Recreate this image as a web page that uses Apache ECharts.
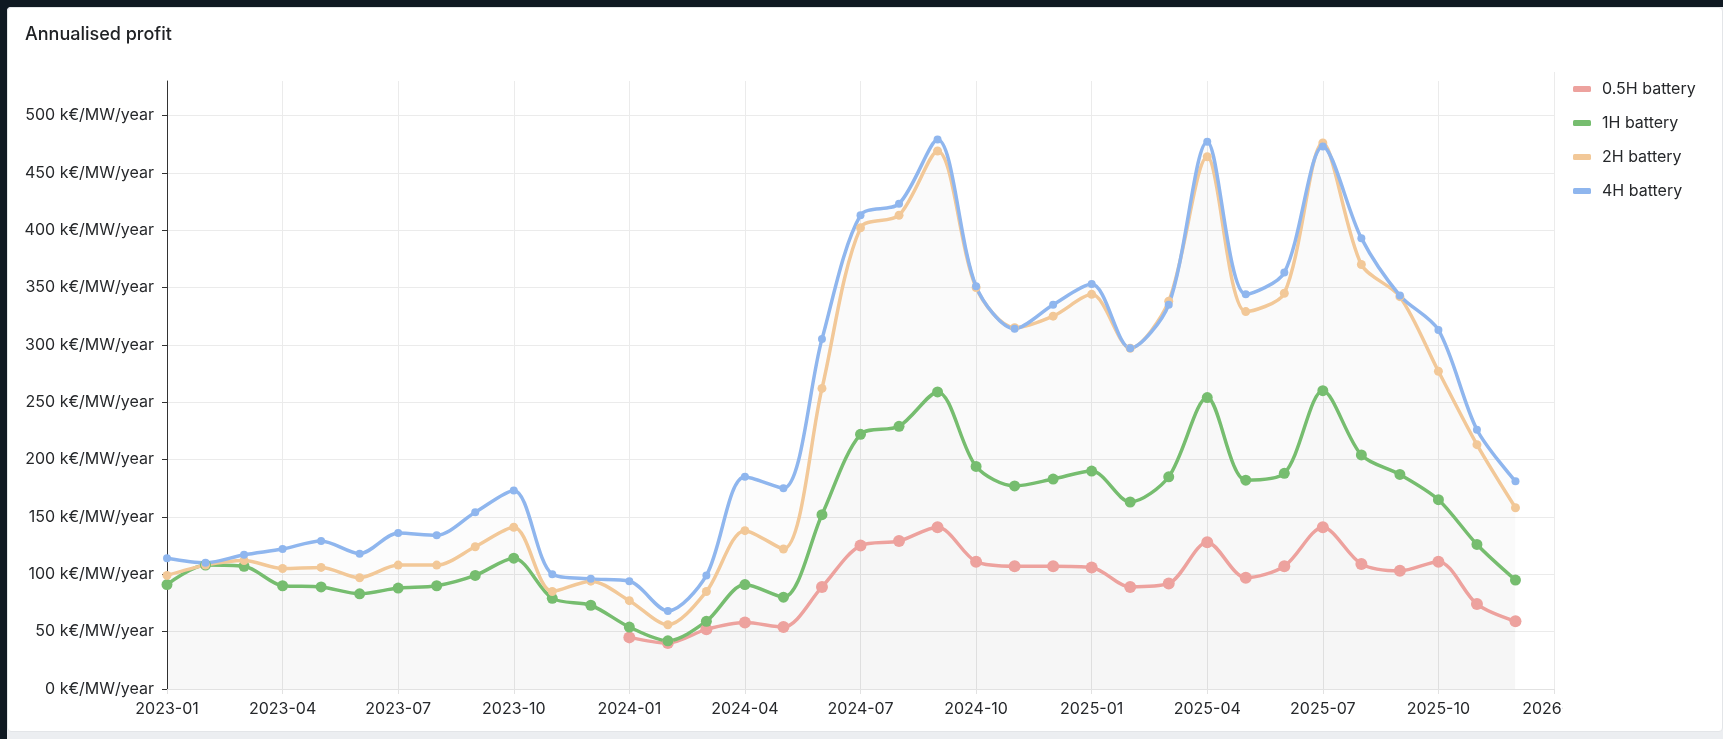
<!DOCTYPE html>
<html>
<head>
<meta charset="utf-8">
<script src="https://cdn.jsdelivr.net/npm/echarts@6/dist/echarts.min.js"></script>
<style>
html,body{margin:0;padding:0;width:1723px;height:739px;overflow:hidden;background:#0f1922;}
#strip{position:absolute;left:7px;top:7px;right:0;bottom:0;background:#eceef1;border-radius:4px 0 0 0;}
#panel{position:absolute;left:7px;top:7px;width:1716px;height:725px;background:#fff;border:1px solid #e3e5e8;border-radius:4px;box-sizing:border-box;}
#chart{position:absolute;left:0;top:0;width:1723px;height:739px;}
</style>
</head>
<body>
<div id="strip"></div>
<div id="panel"></div>
<div id="chart"></div>
<script>
// Monthly categories (tick labels shown every 3rd month)
const months = [
  '2023-01','2023-02','2023-03','2023-04','2023-05','2023-06','2023-07','2023-08','2023-09','2023-10','2023-11','2023-12',
  '2024-01','2024-02','2024-03','2024-04','2024-05','2024-06','2024-07','2024-08','2024-09','2024-10','2024-11','2024-12',
  '2025-01','2025-02','2025-03','2025-04','2025-05','2025-06','2025-07','2025-08','2025-09','2025-10','2025-11','2025-12',
  '2026-01'
];
const yTicks = [0, 50, 100, 150, 200, 250, 300, 350, 400, 450, 500];
const seriesNames = ['0.5H battery', '1H battery', '2H battery', '4H battery'];

const battery05H = [null,null,null,null,null,null,null,null,null,null,null,null,
  45,40,52,58,54,89,125,129,141,111,107,107,
  106,89,92,128,97,107,141,109,103,111,74,59];
const battery1H = [91,108,107,90,89,83,88,90,99,114,79,73,
  54,42,59,91,80,152,222,229,259,194,177,183,
  190,163,185,254,182,188,260,204,187,165,126,95];
const battery2H = [99,108,112,105,106,97,108,108,124,141,85,94,
  77,56,85,138,122,262,402,413,469,350,315,325,
  344,297,338,464,329,345,476,370,342,277,213,158];
const battery4H = [114,110,117,122,129,118,136,134,154,173,100,96,
  94,68,99,185,175,305,413,423,479,351,314,335,
  353,297,335,477,344,363,473,393,343,313,226,181];

const colors = ['#eda29e', '#76bd6f', '#f2c898', '#8fb6ee'];
const symbolSizes = [12, 11, 9, 8];
const allData = [battery05H, battery1H, battery2H, battery4H];

const FONT = 'Inter, "Noto Sans", sans-serif';
const TXT = '#26282b';

const chart = echarts.init(document.getElementById('chart'), null, {renderer: 'canvas'});

const series = seriesNames.map((name, i) => ({
  name: name,
  type: 'line',
  data: allData[i],
  smooth: 0.3,
  symbol: 'circle',
  symbolSize: symbolSizes[i],
  showSymbol: true,
  lineStyle: {width: 3.5, color: colors[i]},
  itemStyle: {color: colors[i], borderWidth: 0},
  areaStyle: {color: 'rgba(0,0,0,0.017)', origin: 'start'},
  emphasis: {disabled: true}
}));

chart.setOption({
  animation: false,
  backgroundColor: 'transparent',
  title: {
    text: 'Annualised profit',
    left: 20, top: 21,
    textStyle: {fontSize: 18, fontWeight: 500, color: '#202225', fontFamily: FONT}
  },
  legend: {
    orient: 'vertical',
    left: 1568, top: 75,
    icon: 'roundRect',
    itemWidth: 18, itemHeight: 6,
    itemGap: 16,
    selectedMode: false,
    z: 10,
    data: seriesNames,
    textStyle: {fontSize: 16, lineHeight: 18, color: TXT, fontFamily: FONT, padding: [0, 0, 0, 6]}
  },
  grid: {left: 167, right: 169, top: 81, bottom: 50, outerBoundsMode: 'none'},
  xAxis: {
    type: 'category',
    data: months,
    boundaryGap: false,
    axisLine: {show: true, lineStyle: {color: '#e2e2e2', width: 1}},
    axisTick: {show: true, interval: 2, length: 5, lineStyle: {color: '#e2e2e2'}},
    axisLabel: {interval: 2, margin: 12, fontSize: 16, color: TXT, fontFamily: FONT},
    splitLine: {show: true, interval: 2, lineStyle: {color: '#ebebeb', width: 1}}
  },
  yAxis: {
    type: 'value',
    min: 0, max: 530, interval: 50,
    axisLine: {show: true, lineStyle: {color: '#333', width: 1}},
    axisTick: {show: true, length: 5, lineStyle: {color: '#333'}, customValues: yTicks},
    axisLabel: {
      margin: 13, fontSize: 16, color: TXT, fontFamily: FONT,
      customValues: yTicks,
      formatter: v => v + ' k€/MW/year'
    },
    splitLine: {show: true, lineStyle: {color: '#ebebeb', width: 1}}
  },
  graphic: [
    {type: 'rect', z: 100, shape: {x: 1563, y: 693, width: 155, height: 37}, style: {fill: '#ffffff'}},
    {type: 'line', z: 100, shape: {x1: 1554.5, y1: 72, x2: 1554.5, y2: 81}, style: {stroke: '#ebebeb', lineWidth: 1}}
  ],
  series: series
});
</script>
</body>
</html>
